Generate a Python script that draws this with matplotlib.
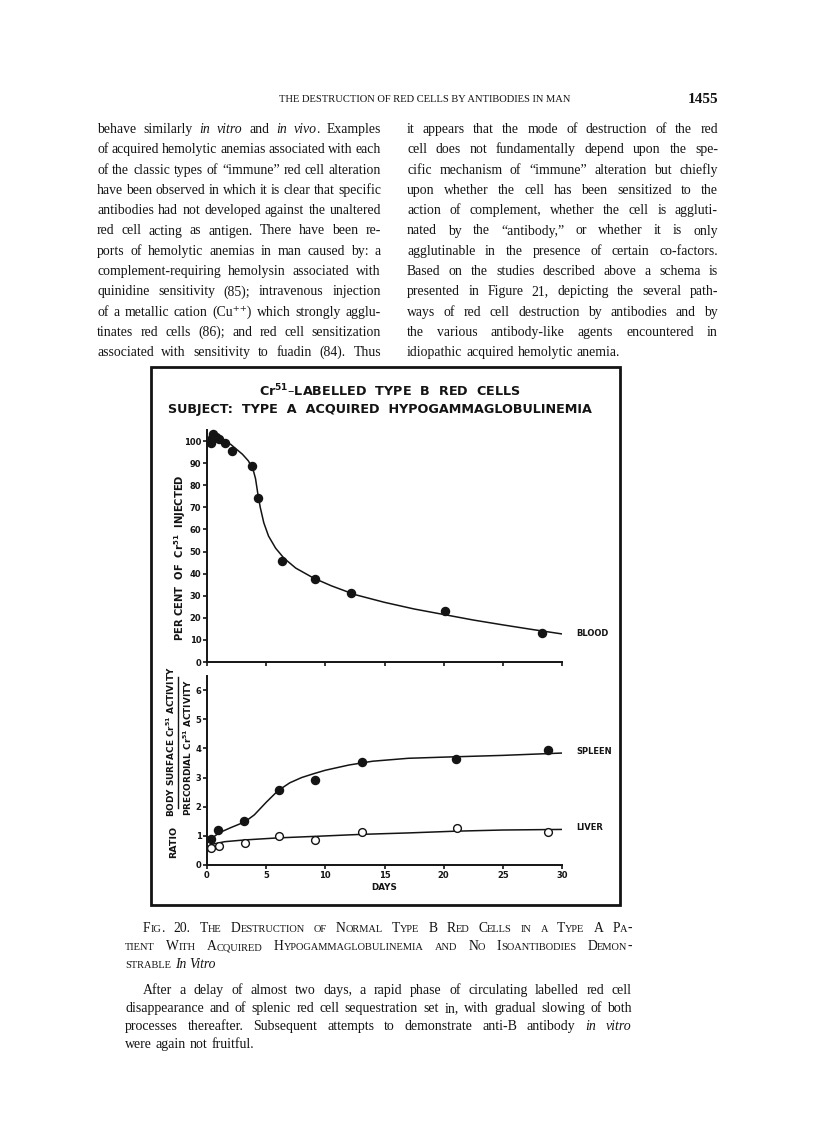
import re
import matplotlib
matplotlib.use("Agg")
import matplotlib.pyplot as plt
from matplotlib.patches import Rectangle
from matplotlib.lines import Line2D

W, H = 816, 1133
INK = "#141414"
SERIF = ["Liberation Serif", "DejaVu Serif"]
SANS = ["DejaVu Sans"]

# ── chart data ───────────────────────────────────────────────────────────
blood_days = [0.3, 0.4, 0.5, 0.8, 1.0, 1.5, 2.1, 3.8, 4.3, 6.3, 9.1, 12.2, 20.1, 28.3]
blood_pct = [99.0, 101.5, 103.2, 101.8, 101.0, 99.3, 95.3, 88.5, 74.0, 45.5, 37.5, 31.2, 23.0, 13.2]

blood_fit_days = [0.2, 1, 2, 3, 3.5, 3.9, 4.1, 4.3, 4.5, 4.8, 5.2, 5.8, 6.5, 7.5,
                  9, 10.5, 12.5, 15, 17.5, 20, 22.5, 25, 27.5, 30]
blood_fit_pct = [101.5, 101, 98.5, 94, 91, 87, 83, 76, 70, 63, 57, 51.5, 47, 42.5,
                 38, 34.5, 30.5, 27, 24, 21.5, 19, 16.8, 14.7, 12.7]

spleen_days = [0.34, 0.95, 3.16, 6.05, 9.1, 13.1, 21.0, 28.8]
spleen_ratio = [0.88, 1.21, 1.50, 2.57, 2.93, 3.54, 3.63, 3.96]
spleen_fit_days = [0.3, 1, 2, 3.2, 4, 5, 6, 7, 8, 9, 10, 12, 14, 17, 20, 25, 30]
spleen_fit_ratio = [0.88, 1.1, 1.28, 1.48, 1.72, 2.15, 2.55, 2.82, 3.0, 3.13, 3.25,
                    3.43, 3.56, 3.66, 3.7, 3.76, 3.84]

liver_days = [0.34, 1.0, 3.2, 6.05, 9.1, 13.1, 21.1, 28.8]
liver_ratio = [0.58, 0.64, 0.77, 1.0, 0.85, 1.13, 1.28, 1.13]
liver_fit_days = [0.3, 1.5, 3.2, 6, 9, 13, 17, 21, 25, 30]
liver_fit_ratio = [0.7, 0.8, 0.86, 0.93, 0.98, 1.05, 1.1, 1.16, 1.2, 1.22]

pct_ticks = list(range(0, 101, 10))
ratio_ticks = [0, 1, 2, 3, 4, 5, 6]
day_ticks = [0, 5, 10, 15, 20, 25, 30]

# ── page text ────────────────────────────────────────────────────────────
left_col = [
    "behave similarly *in* *vitro* and *in* *vivo*. Examples",
    "of acquired hemolytic anemias associated with each",
    "of the classic types of “immune” red cell alteration",
    "have been observed in which it is clear that specific",
    "antibodies had not developed against the unaltered",
    "red cell acting as antigen. There have been re-",
    "ports of hemolytic anemias in man caused by: a",
    "complement-requiring hemolysin associated with",
    "quinidine sensitivity (85); intravenous injection",
    "of a metallic cation (Cu⁺⁺) which strongly agglu-",
    "tinates red cells (86); and red cell sensitization",
    "associated with sensitivity to fuadin (84). Thus",
]
right_col = [
    "it appears that the mode of destruction of the red",
    "cell does not fundamentally depend upon the spe-",
    "cific mechanism of “immune” alteration but chiefly",
    "upon whether the cell has been sensitized to the",
    "action of complement, whether the cell is aggluti-",
    "nated by the “antibody,” or whether it is only",
    "agglutinable in the presence of certain co-factors.",
    "Based on the studies described above a schema is",
    "presented in Figure 21, depicting the several path-",
    "ways of red cell destruction by antibodies and by",
    "the various antibody-like agents encountered in",
    "idiopathic acquired hemolytic anemia.",
]
caption_title = [
    "Fig. 20. The Destruction of Normal Type B Red Cells in a Type A Pa-",
    "tient With Acquired Hypogammaglobulinemia and No Isoantibodies Demon-",
    "strable *In* *Vitro*",
]
caption_body = [
    "After a delay of almost two days, a rapid phase of circulating labelled red cell",
    "disappearance and of splenic red cell sequestration set in, with gradual slowing of both",
    "processes thereafter. Subsequent attempts to demonstrate anti-B antibody *in* *vitro*",
    "were again not fruitful.",
]

fig = plt.figure(figsize=(W / 100, H / 100), dpi=100)
fig.patch.set_facecolor("white")
R = fig.canvas.get_renderer()


def fx(x):
    return x / W


def fy(y):
    return 1 - y / H


def make_runs(word, size, mode):
    if mode != "smallcaps":
        return [(word, size, "italic" if mode == "italic" else "normal")]
    runs = []
    for ch in word:
        s = size * 0.76 if ch.islower() else size
        if runs and runs[-1][1] == s:
            runs[-1][0] += ch.upper()
        else:
            runs.append([ch.upper(), s])
    return [(t, s, "normal") for t, s in runs]


def split_token(tok, smallcaps):
    # "*vivo*." -> italic "vivo" + plain "."
    base = "smallcaps" if smallcaps else "normal"
    m = re.match(r"^\*(.+?)\*(.*)$", tok)
    if m:
        parts = [(m.group(1), "italic")]
        if m.group(2):
            parts.append((m.group(2), base))
        return parts
    return [(tok, base)]


def draw_line(line, x0, x1, y, size, smallcaps=False, justify=True):
    words = []
    for tok in line.split(" "):
        arts, width = [], 0
        for w, mode in split_token(tok, smallcaps):
            for text, s, style in make_runs(w, size, mode):
                t = fig.text(0, 0, text, fontsize=s, fontstyle=style, family=SERIF,
                             va="baseline", ha="left", color=INK)
                wd = t.get_window_extent(renderer=R).width
                arts.append((t, wd))
                width += wd
        words.append((arts, width))
    total = sum(w for _, w in words)
    if justify and len(words) > 1:
        gap = (x1 - x0 - total) / (len(words) - 1)
    else:
        gap = size * 0.27 * 100 / 72
    x = x0
    for arts, width in words:
        for t, wd in arts:
            t.set_position((fx(x), fy(y)))
            x += wd
        x += gap


# header
fig.text(fx(425), fy(102), "THE DESTRUCTION OF RED CELLS BY ANTIBODIES IN MAN",
         fontsize=7.6, family=SERIF, ha="center", va="baseline", color=INK)
fig.text(fx(718), fy(103), "1455", fontsize=11, fontweight="bold", family=SERIF,
         ha="right", va="baseline", color=INK)

# two text columns
for i, line in enumerate(left_col):
    draw_line(line, 97, 381, 133 + i * 20.3, 9.95, justify=True)
for i, line in enumerate(right_col):
    draw_line(line, 407, 718, 133 + i * 20.3, 9.95, justify=i < len(right_col) - 1)

# caption
draw_line(caption_title[0], 143, 632, 932, 9.8, smallcaps=True)
draw_line(caption_title[1], 125, 632, 950, 9.8, smallcaps=True)
draw_line(caption_title[2], 125, 632, 968, 9.8, smallcaps=True, justify=False)
draw_line(caption_body[0], 143, 632, 994, 10.0)
draw_line(caption_body[1], 125, 632, 1012, 10.0)
draw_line(caption_body[2], 125, 632, 1030, 10.0)
draw_line(caption_body[3], 125, 632, 1048, 10.0, justify=False)

# ── figure box ───────────────────────────────────────────────────────────
fig.add_artist(Rectangle((fx(151), fy(905)), (620 - 151) / W, (905 - 367) / H,
                         transform=fig.transFigure, fill=False, lw=2.0, ec=INK))

plt.rcParams["mathtext.fontset"] = "dejavusans"
plt.rcParams["mathtext.default"] = "bf"

fig.text(fx(390), fy(391), r"Cr$^{51}$–LABELLED  TYPE  B  RED  CELLS",
         fontsize=9.2, fontweight="bold", family=SANS, ha="center", va="center", color=INK)
fig.text(fx(168), fy(409), "SUBJECT:  TYPE  A  ACQUIRED  HYPOGAMMAGLOBULINEMIA",
         fontsize=9.2, fontweight="bold", family=SANS, ha="left", va="center", color=INK)


def style_axes(ax):
    for side in ("top", "right"):
        ax.spines[side].set_visible(False)
    for side in ("left", "bottom"):
        ax.spines[side].set_linewidth(1.4)
        ax.spines[side].set_color(INK)
    ax.tick_params(direction="out", length=3, width=1.2, color=INK, labelsize=6,
                   labelcolor=INK, pad=1)
    for lab in ax.get_xticklabels() + ax.get_yticklabels():
        lab.set_fontweight("bold")
    ax.set_facecolor("none")


def ax_rect(x0, x1, ytop, ybot):
    return [fx(x0), fy(ybot), (x1 - x0) / W, (ybot - ytop) / H]


# ── upper panel: blood ───────────────────────────────────────────────────
ax1 = fig.add_axes(ax_rect(207, 562, 430, 662))
ax1.plot(blood_fit_days, blood_fit_pct, color=INK, lw=1.1)
ax1.plot(blood_days, blood_pct, "o", ms=5.8, color=INK, clip_on=False)
ax1.set_xlim(0, 30)
ax1.set_ylim(0, 105)
ax1.set_xticks(day_ticks)
ax1.set_xticklabels([])
ax1.set_yticks(pct_ticks)
ax1.set_yticklabels([str(v) for v in pct_ticks])
style_axes(ax1)
fig.text(fx(576), fy(634), "BLOOD", fontsize=6.0, fontweight="bold", family=SANS,
         ha="left", va="center", color=INK)
fig.text(fx(180), fy(558), r"PER CENT  OF  Cr$^{51}$  INJECTED", rotation=90,
         fontsize=7.2, fontweight="bold", family=SANS, ha="center", va="center", color=INK)

# ── lower panel: spleen and liver ────────────────────────────────────────
ax2 = fig.add_axes(ax_rect(207, 562, 675.5, 865))
ax2.plot(spleen_fit_days, spleen_fit_ratio, color=INK, lw=1.1)
ax2.plot(liver_fit_days, liver_fit_ratio, color=INK, lw=1.1)
ax2.plot(spleen_days, spleen_ratio, "o", ms=5.8, color=INK, clip_on=False)
ax2.plot(liver_days, liver_ratio, "o", ms=5.6, mfc="white", mec=INK, mew=1.0, clip_on=False)
ax2.set_xlim(0, 30)
ax2.set_ylim(0, 6.5)
ax2.set_xticks(day_ticks)
ax2.set_xticklabels([str(v) for v in day_ticks])
ax2.set_yticks(ratio_ticks)
ax2.set_yticklabels([str(v) for v in ratio_ticks])
style_axes(ax2)
fig.text(fx(384), fy(887), "DAYS", fontsize=6.3, fontweight="bold", family=SANS,
         ha="center", va="center", color=INK)
fig.text(fx(576), fy(752), "SPLEEN", fontsize=6.0, fontweight="bold", family=SANS,
         ha="left", va="center", color=INK)
fig.text(fx(576), fy(828), "LIVER", fontsize=6.0, fontweight="bold", family=SANS,
         ha="left", va="center", color=INK)

# ratio label drawn as a fraction
fig.text(fx(174), fy(842), "RATIO", rotation=90, fontsize=6.8, fontweight="bold",
         family=SANS, ha="center", va="center", color=INK)
fig.text(fx(171), fy(742), r"BODY SURFACE Cr$^{51}$ ACTIVITY", rotation=90,
         fontsize=6.4, fontweight="bold", family=SANS, ha="center", va="center", color=INK)
fig.text(fx(188), fy(748), r"PRECORDIAL Cr$^{51}$ ACTIVITY", rotation=90,
         fontsize=6.4, fontweight="bold", family=SANS, ha="center", va="center", color=INK)
fig.add_artist(Line2D([fx(177.5), fx(177.5)], [fy(808), fy(677)],
                      transform=fig.transFigure, lw=1.0, color=INK))

fig.savefig("out.png", dpi=100)
